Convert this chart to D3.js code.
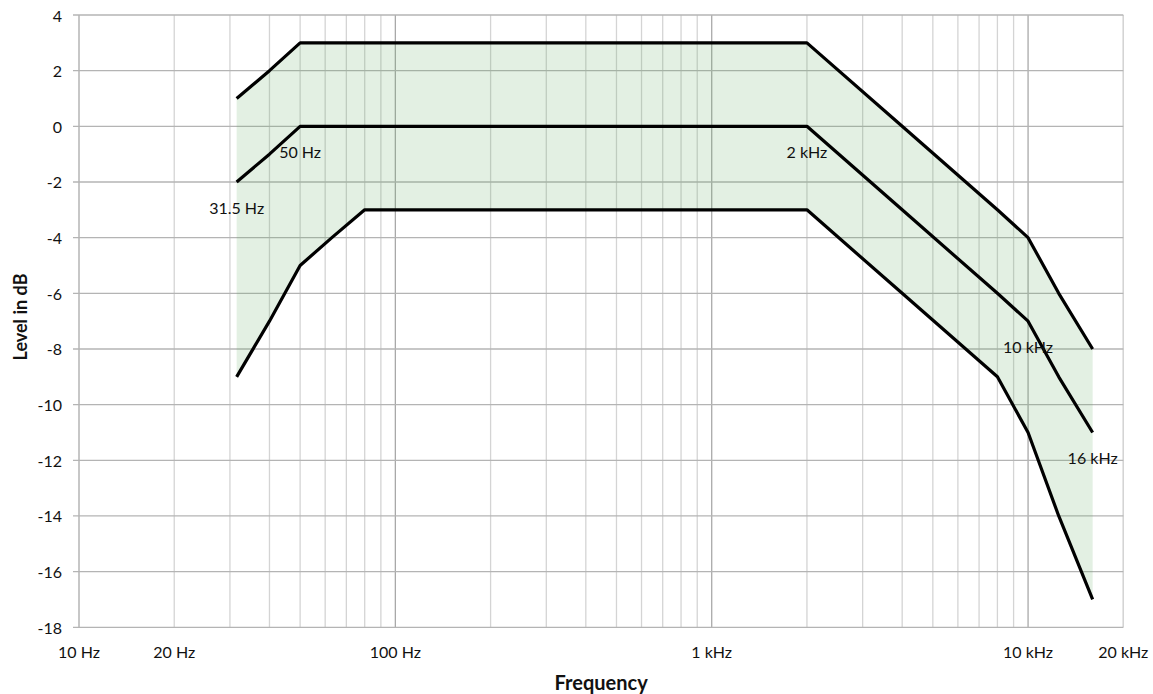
<!DOCTYPE html>
<html>
<head>
<meta charset="utf-8">
<script src="https://cdn.jsdelivr.net/npm/d3@7"></script>
<style>
  html, body { margin: 0; padding: 0; background: #fff; }
  svg { display: block; }
  text { font-family: Lato, "Open Sans", sans-serif; fill: #111; }
</style>
</head>
<body>
<svg id="chart" width="1153" height="694"></svg>
<script>
// Tolerance mask: nominal response with upper and lower limits (dB)
const freqs   = [31.5, 40, 50, 63, 80, 2000, 4000, 8000, 10000, 12500, 16000];
const upper   = [1, 2, 3, 3, 3, 3, 0, -3, -4, -6, -8];
const nominal = [-2, -1, 0, 0, 0, 0, -3, -6, -7, -9, -11];
const lower   = [-9, -7, -5, -4, -3, -3, -6, -9, -11, -14, -17];

// Annotated points on the nominal curve
const labelFreqs = [31.5, 50, 2000, 10000, 16000];
const labelTexts = ["31.5 Hz", "50 Hz", "2 kHz", "10 kHz", "16 kHz"];

// Axis ticks
const xTickValues = [10, 20, 100, 1000, 10000, 20000];
const xTickLabels = ["10 Hz", "20 Hz", "100 Hz", "1 kHz", "10 kHz", "20 kHz"];
const yTickValues = [4, 2, 0, -2, -4, -6, -8, -10, -12, -14, -16, -18];

const margin = { left: 79, right: 1153 - 1123.3, top: 15, bottom: 694 - 627.3 };
const W = 1153, H = 694;

const svg = d3.select("#chart");
const x = d3.scaleLog().domain([10, 20000]).range([margin.left, W - margin.right]);
const y = d3.scaleLinear().domain([-18, 4]).range([H - margin.bottom, margin.top]);

// Vertical grid: every 1..9 multiple per decade, decade lines darker
const gridFreqs = [];
[10, 100, 1000, 10000].forEach(d => { for (let m = 1; m <= 9; m++) gridFreqs.push(d * m); });
gridFreqs.push(20000);

const grid = svg.append("g");
grid.selectAll("line.vg").data(gridFreqs).join("line")
  .attr("class", "vg")
  .attr("x1", d => x(d)).attr("x2", d => x(d))
  .attr("y1", y(4)).attr("y2", y(-18))
  .attr("stroke", d => [10, 100, 1000, 10000].includes(d) ? "#a9a9a9" : "#d4d4d4")
  .attr("stroke-width", 1.3);

grid.selectAll("line.hg").data(yTickValues).join("line")
  .attr("class", "hg")
  .attr("x1", x(10) - 6).attr("x2", x(20000))
  .attr("y1", d => y(d)).attr("y2", d => y(d))
  .attr("stroke", "#b4b4b4")
  .attr("stroke-width", 1.3);

// Tolerance band
const pts = freqs.map((f, i) => ({ f, hi: upper[i], mid: nominal[i], lo: lower[i] }));
svg.append("path")
  .datum(pts)
  .attr("d", d3.area().x(d => x(d.f)).y0(d => y(d.lo)).y1(d => y(d.hi)))
  .attr("fill", "rgb(100,170,100)")
  .attr("fill-opacity", 0.18);

// Curves
const line = key => d3.line().x(d => x(d.f)).y(d => y(d[key]));
["hi", "mid", "lo"].forEach(k => {
  svg.append("path")
    .datum(pts)
    .attr("d", line(k))
    .attr("fill", "none")
    .attr("stroke", "#000")
    .attr("stroke-width", 3.2)
    .attr("stroke-linejoin", "round");
});

// Point labels on nominal curve
svg.append("g").selectAll("text").data(labelFreqs).join("text")
  .attr("x", d => x(d))
  .attr("y", d => y(nominal[freqs.indexOf(d)]) + 25.5)
  .attr("text-anchor", "middle")
  .attr("dominant-baseline", "central")
  .attr("font-size", 16)
  .text((d, i) => labelTexts[i]);

// Y tick labels
svg.append("g").selectAll("text").data(yTickValues).join("text")
  .attr("x", 62)
  .attr("y", d => y(d))
  .attr("text-anchor", "end")
  .attr("dominant-baseline", "central")
  .attr("font-size", 16)
  .text(d => d);

// X tick labels
svg.append("g").selectAll("text").data(xTickValues).join("text")
  .attr("x", d => x(d))
  .attr("y", 651.7)
  .attr("text-anchor", "middle")
  .attr("dominant-baseline", "central")
  .attr("font-size", 16)
  .text((d, i) => xTickLabels[i]);

// Axis titles
svg.append("text")
  .attr("x", (x(10) + x(20000)) / 2)
  .attr("y", 682)
  .attr("text-anchor", "middle")
  .attr("dominant-baseline", "central")
  .attr("font-size", 20)
  .attr("font-weight", "bold")
  .text("Frequency");

svg.append("text")
  .attr("transform", "translate(20,317) rotate(-90)")
  .attr("text-anchor", "middle")
  .attr("dominant-baseline", "central")
  .attr("font-size", 18)
  .attr("font-weight", "bold")
  .text("Level in dB");
</script>
</body>
</html>
